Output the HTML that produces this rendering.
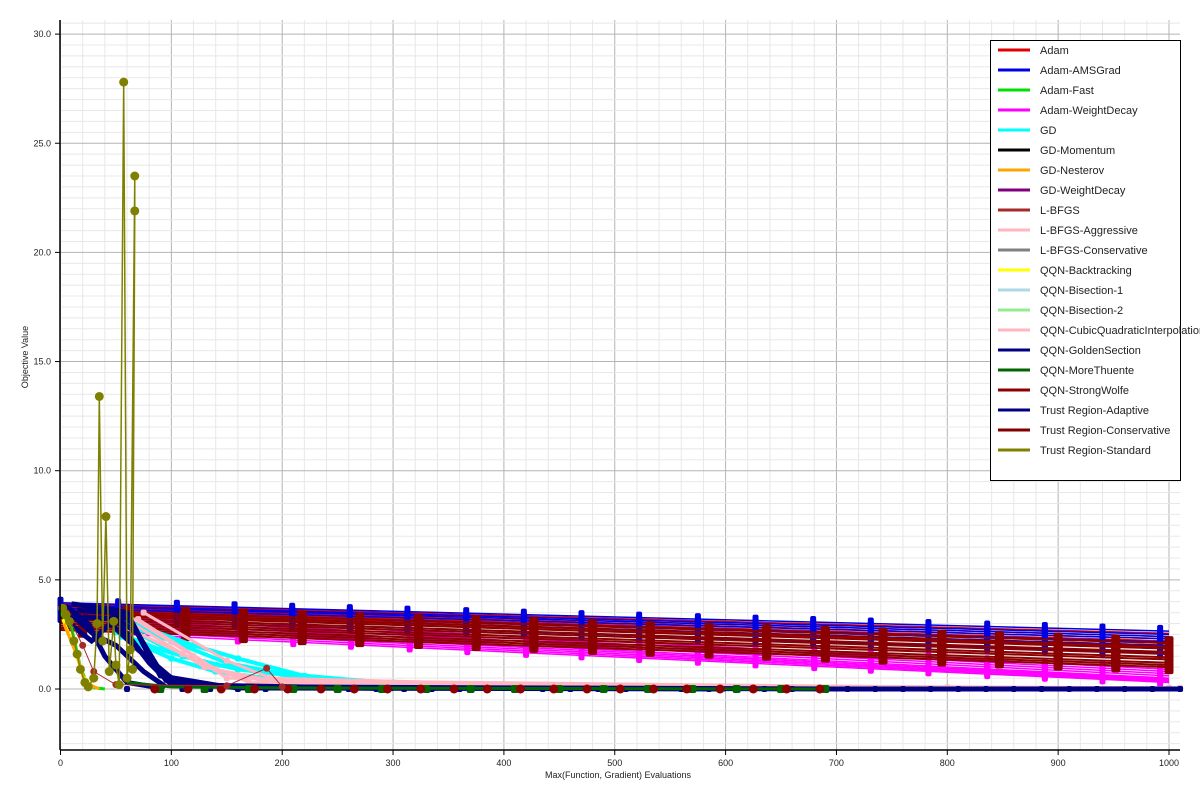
<!DOCTYPE html>
<html><head><meta charset="utf-8"><style>
body{margin:0;background:#fff;font-family:"Liberation Sans","DejaVu Sans",sans-serif}
svg{display:block}
</style></head><body>
<svg id="c" width="1200" height="800" xmlns="http://www.w3.org/2000/svg"></svg>
<script>
// ---- data ----
const xTicks=[0,100,200,300,400,500,600,700,800,900,1000];
const yTicks=[0,5,10,15,20,25,30];
const seriesNames=["Adam","Adam-AMSGrad","Adam-Fast","Adam-WeightDecay","GD","GD-Momentum","GD-Nesterov","GD-WeightDecay","L-BFGS","L-BFGS-Aggressive","L-BFGS-Conservative","QQN-Backtracking","QQN-Bisection-1","QQN-Bisection-2","QQN-CubicQuadraticInterpolation","QQN-GoldenSection","QQN-MoreThuente","QQN-StrongWolfe","Trust Region-Adaptive","Trust Region-Conservative","Trust Region-Standard"];
const seriesColors=["#e00000","#0000e0","#00e000","#ff00ff","#00ffff","#000000","#ffa500","#800080","#a52a2a","#ffb6c1","#808080","#ffff00","#add8e6","#90ee90","#ffb6c1","#000080","#006400","#8b0000","#000080","#800000","#808000"];
const adamStart=[3.9,3.8,3.75,3.65,3.55,3.45,3.4];
const adamEnd=[2.55,2.4,2.3,2.2,2.1,2.0,1.9];
const amsStart=[3.95,3.85,3.8,3.7,3.6,3.5,3.4,3.3];
const amsEnd=[2.65,2.5,2.4,2.3,2.15,2.0,1.85,1.65];
const blueMarkX=[0,52,105,157,209,261,313,366,418,470,522,575,627,679,731,783,836,888,940,992];
const momStart=[3.75,3.6,3.5];
const momEnd=[2.3,2.1,1.95];
const wolfeStart=[3.6,3.5,3.4,3.3,3.2,3.1,3.0,2.9,2.8,2.7];
const wolfeEnd=[2.1,1.95,1.85,1.7,1.6,1.45,1.35,1.2,1.1,1.0];
const wolfeMarkX=[20,60,113,165,218,270,323,375,427,480,532,585,637,690,742,795,847,900,952,1000];
const magStart=[3.3,3.2,3.1,3.0,2.9,2.8,2.7,2.6,2.5];
const magEnd=[0.9,0.8,0.7,0.6,0.5,0.45,0.4,0.35,0.3];
const magMarkX=[110,160,210,262,315,367,420,470,522,575,627,680,731,783,836,888,940,992];
const gdRuns=[[[55,3.0],[100,2.2],[150,1.2],[200,0.7],[300,0.25]],[[60,2.8],[110,1.5],[160,0.9],[250,0.35],[320,0.2]],[[50,2.6],[90,1.8],[140,1.1],[230,0.5],[300,0.3]],[[60,3.1],[120,2.0],[160,1.4],[220,0.6],[280,0.3]],[[55,2.4],[100,1.4],[140,0.8],[200,0.4]]];
const pinkRuns=[[[60,3.4],[120,1.5],[150,0.5],[400,0.2],[1000,0.05]],[[70,3.2],[140,0.9],[200,0.3],[600,0.1],[1000,0.05]],[[65,3.0],[130,1.0],[180,0.4],[800,0.08],[1010,0.05]],[[75,3.5],[150,1.3],[190,0.5],[500,0.1]],[[60,2.8],[110,1.6],[170,0.3],[300,0.1]]];
const navyRuns=[[[10,3.9],[40,3.7],[60,3.5],[90,0.6],[150,0.1],[700,0.0],[1010,0.0]],[[15,3.6],[45,3.5],[70,2.5],[95,0.4],[160,0.05],[600,0.0]],[[20,3.3],[50,3.2],[80,1.2],[100,0.2],[300,0.02]],[[5,3.8],[25,3.0],[40,1.5],[60,0.3],[90,0.05]],[[10,3.4],[30,2.5],[50,2.0],[75,0.8],[95,0.1]],[[25,3.8],[50,3.6],[65,3.0],[85,1.0],[110,0.2]],[[8,3.0],[28,2.2],[45,3.0],[70,1.8],[100,0.5]]];
const greenRuns=[[[60,0.3],[100,0.1],[200,0.05],[690,0.0]]];
const greenMarkX=[90,130,170,210,250,290,330,370,410,450,490,530,570,610,650,690];
const lbfgsRuns=[[[5,3.5],[20,2.0],[30,0.8],[50,0.2],[150,0.15],[186,0.95],[200,0.1]]];
const olivePts=[[2,3.7],[5,3.4],[8,3.1],[12,2.2],[15,1.6],[18,0.9],[22,0.3],[25,0.1],[30,0.5],[33,3.0],[35,13.4],[38,2.2],[41,7.9],[44,0.8],[48,3.1],[50,1.1],[53,0.2],[57,27.8],[60,0.5],[63,1.8],[67,23.5],[67,21.9],[65,0.9]];
const fastRuns=[[[0,3.5],[10,2.8],[18,1.0],[25,0.1],[40,0.0]],[[2,3.2],[12,2.0],[20,0.6],[30,0.05]],[[3,3.0],[15,1.5],[22,0.3],[35,0.0]]];

// ---- scales ----
const X=v=>60.5+v*1.1085, Y=v=>689-v*21.83;
const svg=document.getElementById('c');const NS="http://www.w3.org/2000/svg";
function mk(t,a,p){const e=document.createElementNS(NS,t);for(const k in a)e.setAttribute(k,a[k]);(p||svg).appendChild(e);return e;}
const grid=mk('g',{});


for(let v=0;v<=1100;v+=20){if(X(v)>1180)break;mk('line',{x1:X(v),x2:X(v),y1:20,y2:750,stroke:v%100?'#e8e8e8':'#b4b4b4','stroke-width':1},grid);}
for(let v=-2.5;v<=30.5;v+=0.5){mk('line',{x1:60,x2:1180,y1:Y(v),y2:Y(v),stroke:(v%5)?'#e8e8e8':'#b4b4b4','stroke-width':1},grid);}
const plot=mk('g',{});


function poly(pts,col,w,name){const l=mk('polyline',{points:pts.map(p=>X(p[0])+','+Y(p[1])).join(' '),fill:'none',stroke:col,'stroke-width':w},plot);

return l;}
function rmark(x,y,col,w,h){mk('rect',{x:X(x)-w/2,y:Y(y)-h/2,width:w,height:h,rx:2,fill:col},plot);}
function band(st,en,x0,col,w,markX,mw,mh,name){st.forEach((s,i)=>{const e=en[i];poly([[x0,s],[1000,e]],col,w,name);
 if(markX)markX.forEach(mx=>{if(mx<x0)return;const y=s+(e-s)*(mx-x0)/(1000-x0);rmark(mx,y,col,mw,mh);});});}
band(magStart,magEnd,60,'#ff00ff',1.5,magMarkX,6,10,'adam-weightdecay-run');
band(momStart,momEnd,0,'#000',1,null,0,0,'gd-momentum-run');
band(adamStart,adamEnd,0,'#e00000',1.5,null,0,0,'adam-run');
band(amsStart,amsEnd,0,'#0000e0',1.5,blueMarkX,6,12,'adam-amsgrad-run');
band(wolfeStart,wolfeEnd,0,'#8b0000',2,wolfeMarkX,9,14,'qqn-strongwolfe-run');
gdRuns.forEach(r=>{poly(r,'#00ffff',4,'gd-run');r.forEach(p=>rmark(p[0],p[1],'#00ffff',6,6));});
pinkRuns.forEach(r=>{poly(r,'#ffb6c1',3,'lbfgs-aggressive-run');r.forEach(p=>rmark(p[0],p[1],'#ffb6c1',6,6));});
navyRuns.forEach(r=>{poly(r,'#000080',5,'trust-region-adaptive-run');});
for(let v=60;v<=1010;v+=25)rmark(v,0,'#000080',6,6);
greenRuns.forEach(r=>poly(r,'#006400',3,'qqn-morethuente-run'));
greenMarkX.forEach(v=>rmark(v,0,'#006400',8,8));
for(let v=85;v<=700;v+=30)mk('circle',{cx:X(v),cy:Y(0),r:4.5,fill:'#8b0000'},plot);
lbfgsRuns.forEach(r=>{poly(r,'#a52a2a',1,'lbfgs-run');r.forEach(p=>mk('circle',{cx:X(p[0]),cy:Y(p[1]),r:3.5,fill:'#a52a2a'},plot));});
fastRuns.forEach((r,i)=>poly(r,['#00e000','#ffff00','#ffa500'][i],3,'fast-run'));
poly(olivePts,'#808000',1.5,'trust-region-standard-run');
olivePts.forEach(p=>mk('circle',{cx:X(p[0]),cy:Y(p[1]),r:4.5,fill:'#808000'},plot));
// axes
mk('line',{x1:60,x2:60,y1:20,y2:750,stroke:'#000','stroke-width':1.5});
mk('line',{x1:60,x2:1180,y1:750,y2:750,stroke:'#000','stroke-width':1.5});
xTicks.forEach(v=>{mk('line',{x1:X(v),x2:X(v),y1:750,y2:755,stroke:'#000'});const t=mk('text',{x:X(v),y:766,'font-size':9,'text-anchor':'middle',fill:'#222'});t.textContent=v;

});
yTicks.forEach(v=>{mk('line',{x1:55,x2:60,y1:Y(v),y2:Y(v),stroke:'#000'});const t=mk('text',{x:51,y:Y(v)+3,'font-size':9,'text-anchor':'end',fill:'#222'});t.textContent=v.toFixed(1);

});
const xt=mk('text',{x:618,y:778,'font-size':9,'text-anchor':'middle',fill:'#222'});xt.textContent='Max(Function, Gradient) Evaluations';


const yt=mk('text',{x:28,y:357,'font-size':9,'text-anchor':'middle',fill:'#222',transform:'rotate(-90 28 357)'});yt.textContent='Objective Value';


// legend
const lg=mk('g',{});


mk('rect',{x:990.5,y:40.5,width:190,height:440,fill:'#fff',stroke:'#000'},lg);
seriesNames.forEach((n,i)=>{const y=50+i*20;mk('line',{x1:998,x2:1030,y1:y,y2:y,stroke:seriesColors[i],'stroke-width':3},lg);
const t=mk('text',{x:1040,y:y+4,'font-size':11,fill:'#222'},lg);t.textContent=n;

});
</script>
</body></html>
